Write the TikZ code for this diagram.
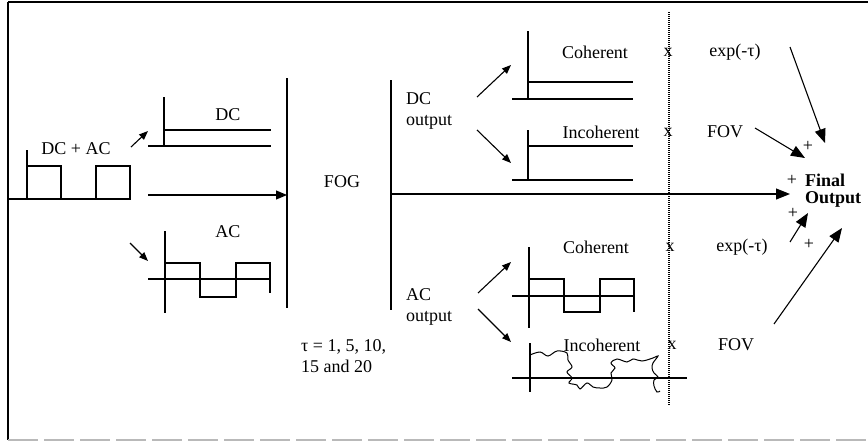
\documentclass[tikz,border=0pt]{standalone}
\usepackage{fontspec}
\setmainfont{Liberation Serif}
\usetikzlibrary{arrows.meta}
\begin{document}
\begin{tikzpicture}[x=1pt,y=-1pt,
  lbl/.style={inner sep=0pt, font=\fontsize{18}{21}\selectfont},
  ln/.style={line width=1.1pt},
  arr/.style={line width=1.1pt,-{Triangle[length=9pt,width=7pt]}},
  bigarr/.style={line width=1.1pt,-{Triangle[length=14pt,width=11pt]}},
]
\useasboundingbox (0,0) rectangle (868,442);
% frame
\draw[line width=1.5pt] (8,2) -- (868,2);
\draw[line width=1.5pt] (8,2) -- (8,440);
\draw[gray!55, line width=1.5pt, dash pattern=on 30pt off 6pt] (8,440) -- (868,440);

% input waveform
\draw[ln] (8,199) -- (130,199);
\draw[ln] (27,150) -- (27,199);
\draw[ln] (27,166) rectangle (61,199);
\draw[ln] (96,166) rectangle (130,199);
\node[lbl] (dcac) at (76,149) {DC + AC};

% DC box
\draw[ln] (164,97) -- (164,146);
\draw[ln] (164,130) -- (271,130);
\draw[ln] (148,146) -- (271,146);
\node[lbl] (dc) at (228,115) {DC};

% AC box
\draw[ln] (165,231) -- (165,313);
\draw[ln] (148,279) -- (271,279);
\draw[ln] (165,263) -- (200,263) -- (200,297) -- (236,297) -- (236,263) -- (270,263) -- (270,293);
\node[lbl] (ac) at (228,232) {AC};

% FOG
\draw[line width=1.4pt] (287,78) -- (287,308);
\draw[line width=1.4pt] (391,80) -- (391,310);
\node[lbl] (fog) at (342,182) {FOG};

% left arrows
\coordinate (a1s) at (131,147); \coordinate (a1e) at (148,131);
\coordinate (a2s) at (130,243); \coordinate (a2e) at (148,261);
\coordinate (a3s) at (148,195); \coordinate (a3e) at (287,195);
\draw[arr] (a1s) -- (a1e);
\draw[arr] (a2s) -- (a2e);
\draw[line width=1.1pt,-{Triangle[length=11pt,width=9pt]}] (a3s) -- (a3e);

% main output arrow
\coordinate (ms) at (391,194); \coordinate (me) at (790,194);
\draw[line width=1.1pt,-{Triangle[length=14pt,width=11pt]}] (ms) -- (me);

% outputs text
\node[lbl, anchor=west, align=left] (dcout) at (406,111) {DC\\output};
\node[lbl, anchor=west, align=left] (acout) at (406,307) {AC\\output};
\node[lbl, anchor=west, align=left] (tau) at (301,356) {τ = 1, 5, 10,\\15 and 20};

% output arrows
\coordinate (b1s) at (477,97);  \coordinate (b1e) at (511,65);
\coordinate (b2s) at (477,130); \coordinate (b2e) at (511,163);
\coordinate (b3s) at (478,293); \coordinate (b3e) at (511,262);
\coordinate (b4s) at (478,309); \coordinate (b4e) at (511,342);
\draw[arr] (b1s) -- (b1e);
\draw[arr] (b2s) -- (b2e);
\draw[arr] (b3s) -- (b3e);
\draw[arr] (b4s) -- (b4e);

% DC coherent
\draw[ln] (528,31) -- (528,98);
\draw[ln] (528,82) -- (633,82);
\draw[ln] (512,99) -- (633,99);
% DC incoherent
\draw[ln] (528,130) -- (528,179);
\draw[ln] (528,146) -- (633,146);
\draw[ln] (512,180) -- (633,180);
% AC coherent
\draw[ln] (529,247) -- (529,328);
\draw[ln] (512,296) -- (635,296);
\draw[ln] (529,279) -- (564,279) -- (564,312) -- (600,312) -- (600,279) -- (634,279) -- (634,312);
% AC incoherent
\draw[ln] (530,343) -- (530,392);
\draw[ln] (512,378) -- (687,378);
\draw[line width=1pt] plot[smooth, tension=0.6] coordinates {
 (530,355) (540,352) (548,356) (557,351) (567,353) (568,360) (572,367) (567,372)
 (572,378) (569,383) (577,385) (580,389) (587,383) (593,387) (600,388) (607,387)
 (612,380) (611,373) (615,368) (611,363) (617,359) (627,362) (633,359) (642,361)
 (653,358) (658,356) (653,363) (652,368) (654,373) (658,377) (654,380) (654,386)
 (657,392) (660,391)};

% dotted separator
\draw[line width=1.2pt, dash pattern=on 1.2pt off 0.8pt] (669,12) -- (669,405);

% right column labels
\node[lbl] (coh1) at (595,52) {Coherent};
\node[lbl] (x1) at (668,52) {x};
\node[lbl] (exp1) at (735,52) {exp(-τ)};
\node[lbl] (inc1) at (601,132) {Incoherent};
\node[lbl] (x2) at (668,132) {x};
\node[lbl] (fov1) at (725,132) {FOV};
\node[lbl] (coh2) at (596,247) {Coherent};
\node[lbl] (x3) at (670,247) {x};
\node[lbl] (exp2) at (742,247) {exp(-τ)};
\node[lbl] (inc2) at (602,345) {Incoherent};
\node[lbl] (x4) at (672,345) {x};
\node[lbl] (fov2) at (736,345) {FOV};

% final output
\node[lbl] (p1) at (808,146) {+};
\node[lbl] (p2) at (792,180) {+};
\node[lbl, anchor=west, font=\fontsize{18}{21}\selectfont\bfseries] (fin) at (805,180) {Final};
\node[lbl, anchor=west, font=\fontsize{18}{21}\selectfont\bfseries] (outp) at (805,199) {Output};
\node[lbl] (p3) at (793,213) {+};
\node[lbl] (p4) at (809,244) {+};

\coordinate (c1s) at (790,47);  \coordinate (c1e) at (825,143);
\coordinate (c2s) at (755,128); \coordinate (c2e) at (805,158);
\coordinate (c3s) at (790,242); \coordinate (c3e) at (808,213);
\coordinate (c4s) at (774,324); \coordinate (c4e) at (842,228);
\draw[bigarr] (c1s) -- (c1e);
\draw[bigarr] (c2s) -- (c2e);
\draw[bigarr] (c3s) -- (c3e);
\draw[bigarr] (c4s) -- (c4e);
\end{tikzpicture}
\end{document}
